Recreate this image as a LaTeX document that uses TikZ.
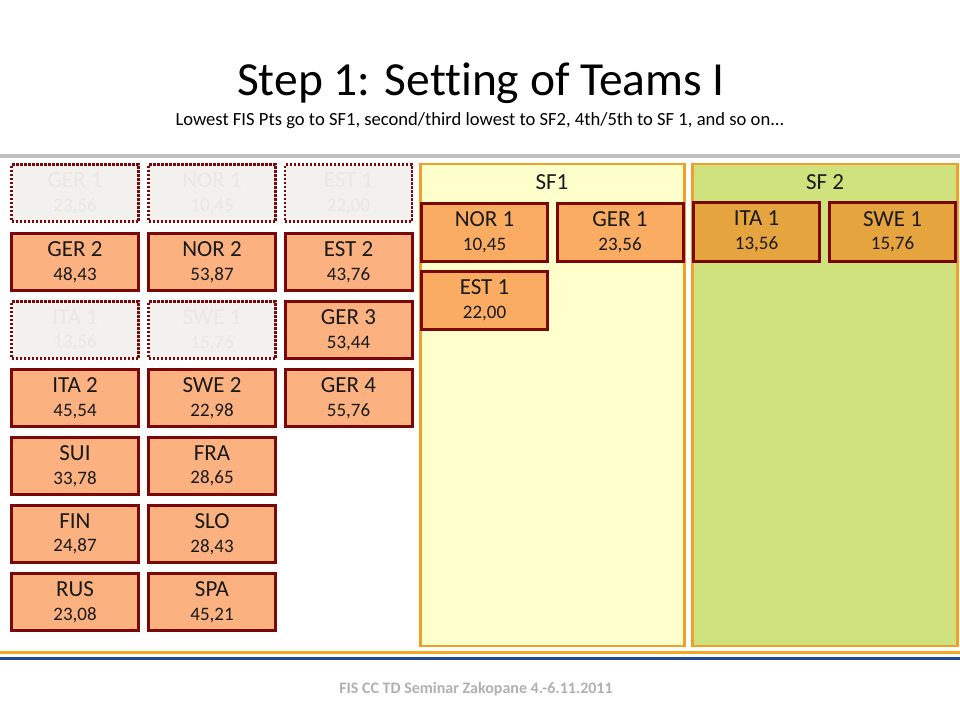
\documentclass[tikz,border=0pt]{standalone}
\usepackage{fontspec}
\setmainfont{Carlito}[Ligatures=NoCommon]
\definecolor{boxred}{RGB}{122,8,8}
\definecolor{leftfill}{RGB}{251,178,128}
\definecolor{sfafill}{RGB}{250,172,98}
\definecolor{sfbfill}{RGB}{230,164,62}
\definecolor{ghostfill}{RGB}{243,241,237}
\definecolor{ghosttext}{RGB}{235,231,226}
\definecolor{panelborder}{RGB}{240,160,40}
\definecolor{panelA}{RGB}{255,255,204}
\definecolor{panelB}{RGB}{208,226,126}
\definecolor{rulegray}{RGB}{191,191,191}
\definecolor{ruleorange}{RGB}{245,166,35}
\definecolor{ruleblue}{RGB}{31,72,150}
\definecolor{footgray}{RGB}{176,176,176}
\newcommand\tm[2]{#1\\{\fontsize{19}{23.5}\selectfont #2}}
\begin{document}
\begin{tikzpicture}[x=1pt,y=-1pt,
  teambox/.style={draw=boxred,line width=3pt,fill=leftfill,minimum width=127pt,minimum height=57pt,
    inner sep=0pt,align=center,font=\fontsize{23}{23.5}\selectfont,text=black!90},
  ghostbox/.style={teambox,fill=ghostfill,text=ghosttext,dash pattern=on 2.4pt off 1.6pt,line width=2.5pt},
  sfabox/.style={teambox,fill=sfafill,minimum width=126pt,minimum height=58pt},
  sfbbox/.style={teambox,fill=sfbfill,minimum width=126pt,minimum height=59pt},
  panel/.style={draw=panelborder,line width=2.5pt},
  paneltitle/.style={font=\fontsize{23}{23}\selectfont,text=black!90,inner sep=0pt}]
\useasboundingbox (0,0) rectangle (960,720);
% rules
\fill[rulegray] (0,154) rectangle (960,157.5);
\fill[ruleorange] (0,650.5) rectangle (960,654);
\fill[ruleblue] (0,656.5) rectangle (960,660);
% title
\node[font=\fontsize{47.5}{47.5}\selectfont,anchor=base,inner sep=0pt] (title) at (481,95) {Step 1: Setting of Teams I};
\node[font=\fontsize{18.6}{18.6}\selectfont,anchor=base,inner sep=0pt] (subtitle) at (480,125) {Lowest FIS Pts go to SF1, second/third lowest to SF2, 4th/5th to SF 1, and so on...};
% panels
\path[panel,fill=panelA] (420.5,164) rectangle (684.5,646);
\path[panel,fill=panelB] (692.5,164) rectangle (957.5,646);
\node[paneltitle,anchor=base] (sf1) at (552,189) {SF1};
\node[paneltitle,anchor=base] (sf2) at (825,189) {SF 2};
% left pool
\node[ghostbox] (ger1g) at (75,193) {\tm{GER 1}{23,56}};
\node[ghostbox] (nor1g) at (212,193) {\tm{NOR 1}{10,45}};
\node[ghostbox] (est1g) at (348.5,193) {\tm{EST 1}{22,00}};
\node[teambox] (ger2) at (75,262) {\tm{GER 2}{48,43}};
\node[teambox] (nor2) at (212,262) {\tm{NOR 2}{53,87}};
\node[teambox] (est2) at (348.5,262) {\tm{EST 2}{43,76}};
\node[ghostbox] (ita1g) at (75,330) {\tm{ITA 1}{13,56}};
\node[ghostbox] (swe1g) at (212,330) {\tm{SWE 1}{15,76}};
\node[teambox] (ger3) at (348.5,330) {\tm{GER 3}{53,44}};
\node[teambox] (ita2) at (75,398) {\tm{ITA 2}{45,54}};
\node[teambox] (swe2) at (212,398) {\tm{SWE 2}{22,98}};
\node[teambox] (ger4) at (348.5,398) {\tm{GER 4}{55,76}};
\node[teambox] (sui) at (75,466) {\tm{SUI}{33,78}};
\node[teambox] (fra) at (212,466) {\tm{FRA}{28,65}};
\node[teambox] (fin) at (75,534) {\tm{FIN}{24,87}};
\node[teambox] (slo) at (212,534) {\tm{SLO}{28,43}};
\node[teambox] (rus) at (75,602) {\tm{RUS}{23,08}};
\node[teambox] (spa) at (212,602) {\tm{SPA}{45,21}};
% SF1
\node[sfabox] (nor1) at (484.5,232) {\tm{NOR 1}{10,45}};
\node[sfabox] (ger1) at (620,232) {\tm{GER 1}{23,56}};
\node[sfabox] (est1) at (484.5,300) {\tm{EST 1}{22,00}};
% SF2
\node[sfbbox] (ita1) at (756.5,231.5) {\tm{ITA 1}{13,56}};
\node[sfbbox] (swe1) at (892.5,231.5) {\tm{SWE 1}{15,76}};
% footer
\node[font=\bfseries\fontsize{16}{16}\selectfont,text=footgray,anchor=base,inner sep=0pt] (footer) at (476,693) {FIS CC TD Seminar Zakopane 4.-6.11.2011};
\end{tikzpicture}
\end{document}
